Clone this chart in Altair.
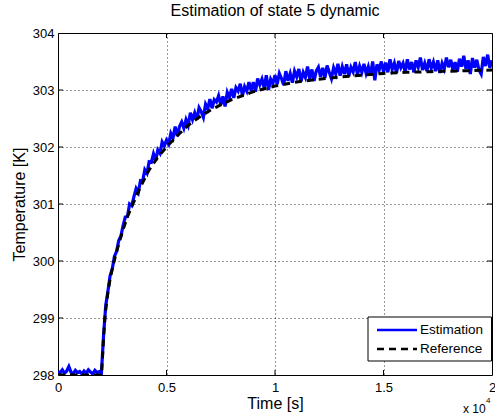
import altair as alt
import pandas as pd

FONT = "Liberation Sans"

# Estimator output, sampled every 100 s (temperature in K)
est_time = list(range(0, 20001, 100))
est_temp = [
    298.06, 298.04, 298.09, 298.03, 298.07, 298.15, 298.05, 298.02, 298.08, 298.04,
    298.06, 298.02, 298.07, 298.03, 298.09, 298.05, 298.02, 298.08, 298.04, 298.06,
    298.03,
    298.70, 299.22, 299.47, 299.74, 299.86, 300.08, 300.17, 300.36, 300.44, 300.62,
    300.77, 300.78, 301.00, 300.97, 301.13, 301.27, 301.20, 301.41, 301.40, 301.60,
    301.54, 301.74, 301.73, 301.88, 301.76, 301.95, 301.89, 302.09, 302.02, 302.12,
    302.05, 302.24, 302.16, 302.36, 302.19, 302.36, 302.44, 302.33, 302.48, 302.38,
    302.60, 302.48, 302.60, 302.48, 302.69, 302.62, 302.52, 302.75, 302.67, 302.84,
    302.68, 302.83, 302.79, 302.90, 302.74, 302.89, 302.71, 302.96, 302.87, 303.02,
    302.86, 303.04, 302.98, 303.11, 302.90, 303.06, 302.98, 303.14, 302.99, 303.14,
    302.97, 303.20, 303.09, 303.19, 303.04, 303.26, 303.00, 303.19, 303.11, 303.26,
    303.10, 303.29, 303.20, 303.09, 303.33, 303.16, 303.29, 303.13, 303.33, 303.23,
    303.37, 303.15, 303.31, 303.22, 303.41, 303.20, 303.36, 303.16, 303.33, 303.40,
    303.23, 303.39, 303.21, 303.43, 303.31, 303.20, 303.39, 303.28, 303.46, 303.25,
    303.41, 303.28, 303.45, 303.24, 303.40, 303.32, 303.49, 303.27, 303.42, 303.31,
    303.46, 303.29, 303.41, 303.25, 303.50, 303.17, 303.45, 303.35, 303.50, 303.32,
    303.48, 303.31, 303.54, 303.36, 303.47, 303.30, 303.51, 303.39, 303.47, 303.32,
    303.54, 303.36, 303.49, 303.31, 303.52, 303.40, 303.57, 303.35, 303.47, 303.33,
    303.54, 303.38, 303.49, 303.33, 303.52, 303.30, 303.47, 303.37, 303.57, 303.40,
    303.53, 303.35, 303.49, 303.32, 303.55, 303.41, 303.60, 303.37, 303.52, 303.28,
    303.56, 303.39, 303.53, 303.35, 303.28, 303.58, 303.42, 303.62, 303.39, 303.52,
]

# Reference trajectory (s, K)
ref_time = [0, 2000, 2050, 2100, 2150, 2200, 2300, 2400, 2500, 2600, 2800, 3000,
            3200, 3450, 3800, 4200, 4600, 5000, 5500, 6000, 6500, 7000, 7500,
            8000, 9000, 10000, 11000, 12000, 13000, 14000, 15000, 16000, 17000,
            18000, 19000, 20000]
ref_temp = [298.00, 298.00, 298.30, 298.65, 298.95, 299.15, 299.45, 299.68, 299.86,
            300.02, 300.30, 300.55, 300.78, 301.00, 301.30, 301.60, 301.82, 302.00,
            302.20, 302.38, 302.52, 302.64, 302.74, 302.83, 302.97, 303.07, 303.14,
            303.19, 303.23, 303.26, 303.29, 303.31, 303.32, 303.33, 303.34, 303.35]

series_names = ["Estimation", "Reference"]
series_colors = ["#0000ff", "#000000"]
x_ticks = [0, 5000, 10000, 15000, 20000]
y_ticks = [298, 299, 300, 301, 302, 303, 304]

est_df = pd.DataFrame({"time": est_time, "temp": est_temp})
ref_df = pd.DataFrame({"time": ref_time, "temp": ref_temp})

W, H = 434, 342
REF_DASH = [7, 5]

x_scale = alt.Scale(domain=[0, 20000], nice=False, zero=False)
y_scale = alt.Scale(domain=[298, 304], nice=False, zero=False)

x_enc = alt.X("time:Q", scale=x_scale,
              axis=alt.Axis(values=x_ticks, labelExpr="datum.value / 10000",
                            title="Time [s]", labelPadding=6, titlePadding=1,
                            labelFlush=False, labelOverlap=False))
y_enc = alt.Y("temp:Q", scale=y_scale,
              axis=alt.Axis(values=y_ticks, title="Temperature [K]",
                            labelPadding=4, titlePadding=5, labelOverlap=False))

est_line = alt.Chart(est_df).mark_line(
    clip=True, strokeWidth=3.2, color=series_colors[0]).encode(x=x_enc, y=y_enc)
ref_line = alt.Chart(ref_df).mark_line(
    clip=True, strokeWidth=3, color=series_colors[1], strokeDash=REF_DASH).encode(x=x_enc, y=y_enc)

# inward tick marks on all four sides of the box
xt = pd.DataFrame({"time": x_ticks[1:-1]})
yt = pd.DataFrame({"temp": y_ticks[1:-1]})
tick_b = alt.Chart(xt).mark_rule(color="black").encode(x=x_enc, y=alt.value(H), y2=alt.value(H - 5))
tick_t = alt.Chart(xt).mark_rule(color="black").encode(x=x_enc, y=alt.value(0), y2=alt.value(5))
tick_l = alt.Chart(yt).mark_rule(color="black").encode(y=y_enc, x=alt.value(0), x2=alt.value(5))
tick_r = alt.Chart(yt).mark_rule(color="black").encode(y=y_enc, x=alt.value(W), x2=alt.value(W - 5))

# legend box in the lower right corner
leg_df = pd.DataFrame({"name": series_names})
one = pd.DataFrame({"k": [0]})
leg_box = alt.Chart(one).mark_rect(fill="white", stroke="black", strokeWidth=1).encode(
    x=alt.value(310), x2=alt.value(W - 0.5), y=alt.value(284), y2=alt.value(328))
leg_est = alt.Chart(one).mark_rule(color=series_colors[0], strokeWidth=2.5).encode(
    x=alt.value(319), x2=alt.value(359), y=alt.value(297))
leg_ref = alt.Chart(one).mark_rule(color=series_colors[1], strokeWidth=2.5,
                                   strokeDash=REF_DASH).encode(
    x=alt.value(319), x2=alt.value(359), y=alt.value(316))
leg_txt1 = alt.Chart(leg_df.iloc[[0]]).mark_text(
    font=FONT, fontSize=13.5, align="left", baseline="middle", color="black"
).encode(text="name:N", x=alt.value(362), y=alt.value(297))
leg_txt2 = alt.Chart(leg_df.iloc[[1]]).mark_text(
    font=FONT, fontSize=13.5, align="left", baseline="middle", color="black"
).encode(text="name:N", x=alt.value(362), y=alt.value(316))

# axis multiplier "x 10^4"
mult = alt.Chart(pd.DataFrame({"t": ["x 10"]})).mark_text(
    font=FONT, fontSize=12, align="left", baseline="alphabetic", color="black"
).encode(text="t:N", x=alt.value(405), y=alt.value(380))
mult_exp = alt.Chart(pd.DataFrame({"t": ["4"]})).mark_text(
    font=FONT, fontSize=8, align="left", baseline="alphabetic", color="black"
).encode(text="t:N", x=alt.value(428), y=alt.value(370))

chart = alt.layer(
    est_line, ref_line, tick_b, tick_t, tick_l, tick_r,
    leg_box, leg_est, leg_ref, leg_txt1, leg_txt2, mult, mult_exp
).properties(
    width=W, height=H,
    title=alt.TitleParams("Estimation of state 5 dynamic", font=FONT, fontSize=16,
                          fontWeight="normal", color="black", anchor="middle", offset=8),
    padding={"left": 58, "top": 33, "right": 3, "bottom": 42},
    autosize=alt.AutoSizeParams(type="none"),
).configure_view(
    stroke="black", strokeWidth=1
).configure_axis(
    labelFont=FONT, labelFontSize=13, labelColor="black",
    titleFont=FONT, titleFontSize=16, titleFontWeight="normal", titleColor="black",
    grid=True, gridColor="black", gridDash=[1, 3], gridOpacity=0.8, gridWidth=1,
    ticks=False, domain=False,
)

chart.save("out.html", embed_options={"renderer": "svg", "actions": False})
